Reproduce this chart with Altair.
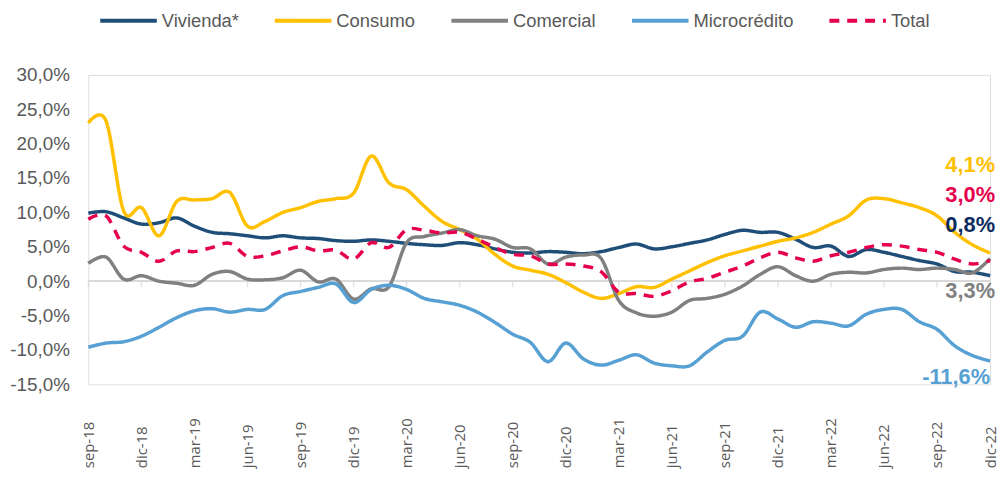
import altair as alt
import pandas as pd

months = [
    "sep-18", "oct-18", "nov-18", "dic-18",
    "ene-19", "feb-19", "mar-19", "abr-19", "may-19", "jun-19", "jul-19", "ago-19", "sep-19", "oct-19", "nov-19", "dic-19",
    "ene-20", "feb-20", "mar-20", "abr-20", "may-20", "jun-20", "jul-20", "ago-20", "sep-20", "oct-20", "nov-20", "dic-20",
    "ene-21", "feb-21", "mar-21", "abr-21", "may-21", "jun-21", "jul-21", "ago-21", "sep-21", "oct-21", "nov-21", "dic-21",
    "ene-22", "feb-22", "mar-22", "abr-22", "may-22", "jun-22", "jul-22", "ago-22", "sep-22", "oct-22", "nov-22", "dic-22",
]
tick_labels = ["sep-18", "dic-18", "mar-19", "jun-19", "sep-19", "dic-19", "mar-20", "jun-20", "sep-20",
               "dic-20", "mar-21", "jun-21", "sep-21", "dic-21", "mar-22", "jun-22", "sep-22", "dic-22"]

vivienda = [9.9, 10.1, 9.2, 8.3, 8.5, 9.2, 8.0, 7.1, 6.9, 6.6, 6.3, 6.6, 6.3, 6.2, 5.9, 5.8, 6.0, 5.8,
            5.5, 5.3, 5.2, 5.6, 5.3, 4.7, 4.2, 4.1, 4.3, 4.2, 4.0, 4.3, 4.9, 5.4, 4.7, 5.0, 5.5, 6.0,
            6.8, 7.4, 7.1, 7.1, 6.1, 4.9, 5.1, 3.6, 4.6, 4.2, 3.6, 3.0, 2.5, 1.4, 1.3, 0.8]
consumo = [23.0, 23.3, 10.2, 10.7, 6.6, 11.6, 11.8, 12.0, 12.9, 8.0, 8.7, 10.0, 10.7, 11.6, 12.0, 12.8, 18.2, 14.3,
           13.3, 10.9, 8.7, 7.5, 6.1, 3.9, 2.2, 1.6, 1.0, -0.2, -1.6, -2.5, -1.8, -0.8, -0.9, 0.3, 1.5, 2.7,
           3.7, 4.4, 5.1, 5.8, 6.3, 7.1, 8.3, 9.5, 11.8, 12.0, 11.4, 10.7, 9.5, 7.1, 5.3, 4.1]
comercial = [2.6, 3.5, 0.3, 0.8, 0.0, -0.3, -0.6, 1.0, 1.4, 0.3, 0.2, 0.5, 1.6, -0.1, 0.3, -2.6, -1.1, -0.8,
             5.6, 6.5, 7.0, 7.5, 6.6, 6.1, 4.9, 4.7, 2.5, 3.5, 3.8, 3.3, -2.8, -4.6, -5.1, -4.5, -2.8, -2.5,
             -1.9, -0.7, 1.0, 2.1, 0.8, 0.0, 1.0, 1.3, 1.2, 1.7, 1.9, 1.7, 1.9, 1.7, 1.2, 3.3]
microcredito = [-9.6, -9.0, -8.8, -8.0, -6.7, -5.3, -4.3, -4.0, -4.5, -4.1, -4.1, -2.1, -1.5, -0.9, -0.4, -3.1, -1.2, -0.6,
                -1.2, -2.5, -3.0, -3.5, -4.5, -6.0, -7.7, -8.9, -11.7, -9.0, -11.3, -12.2, -11.5, -10.7, -11.9, -12.3, -12.3, -10.3,
                -8.6, -8.0, -4.5, -5.5, -6.7, -5.9, -6.1, -6.5, -4.8, -4.1, -4.1, -5.9, -7.0, -9.4, -10.8, -11.6]
total = [9.0, 9.5, 5.1, 4.2, 2.9, 4.4, 4.3, 4.9, 5.5, 3.6, 3.7, 4.4, 5.0, 4.4, 4.5, 3.2, 5.6, 4.9,
         7.5, 7.4, 7.0, 7.1, 6.1, 4.9, 3.9, 3.7, 2.5, 2.5, 2.2, 1.4, -1.6, -1.8, -2.2, -1.4, -0.1, 0.4,
         1.3, 2.2, 3.4, 4.2, 3.4, 2.9, 3.7, 4.2, 4.9, 5.3, 5.1, 4.6, 4.2, 3.2, 2.5, 3.0]

series_names = ["Vivienda*", "Consumo", "Comercial", "Microcrédito", "Total"]
series_values = [vivienda, consumo, comercial, microcredito, total]
line_colors = ["#1F4E79", "#FFC000", "#808080", "#56A0D3", "#E6004C"]
label_colors = ["#0B2A5E", "#FFC000", "#808080", "#56A0D3", "#E6004C"]
dashes = [[1, 0], [1, 0], [1, 0], [1, 0], [10, 8]]
label_dy = [-51, -89, 33, 16, -66]
label_dx = [5, 5, 5, 0, 5]

rows = []
for name, vals in zip(series_names, series_values):
    for m, v in zip(months, vals):
        rows.append({"mes": m, "serie": name, "valor": v})
df = pd.DataFrame(rows)
ticks_df = pd.DataFrame({"mes": tick_labels})

FONT = "Liberation Sans"
GREY_TXT = "#595959"

x_enc = alt.X(
    "mes:O",
    scale=alt.Scale(type="point", domain=months, padding=0),
    axis=alt.Axis(
        values=tick_labels, labelAngle=-90, labelAlign="left", labelBaseline="middle",
        labelPadding=84, labelFont="Open Sans", labelFontSize=15, labelColor=GREY_TXT,
        domain=False, ticks=False, grid=False, title=None, labelOverlap=False,
    ),
)
y_scale = alt.Scale(domain=[-15, 30], nice=False, zero=False)
y_axis = alt.Axis(
    values=list(range(-15, 31, 5)),
    labelExpr="(datum.value < 0 ? '-' : '') + replace(format(abs(datum.value), '.1f'), '.', ',') + '%'",
    domain=False, ticks=False, grid=False, title=None,
    labelFont=FONT, labelFontSize=19, labelColor=GREY_TXT, labelPadding=19,
)

legend = alt.Legend(
    title=None, orient="none", legendX=10, legendY=-85, direction="horizontal", columns=5,
    symbolType="stroke", symbolSize=3249, symbolStrokeWidth=4,
    labelFont=FONT, labelFontSize=18.5, labelColor=GREY_TXT, labelOffset=3,
    columnPadding=28, padding=0,
)

zero_rule = alt.Chart(df).mark_rule(color="#D9D9D9", strokeWidth=1.5).encode(
    y=alt.Y(datum=0, scale=y_scale, axis=y_axis)
)
tick_marks = alt.Chart(ticks_df).mark_tick(
    orient="vertical", color="#D9D9D9", thickness=1.5, size=6, yOffset=3
).encode(x=x_enc, y=alt.Y(datum=0, scale=y_scale, axis=y_axis))

lines = alt.Chart(df).mark_line(interpolate="cardinal", strokeWidth=3.5).encode(
    x=x_enc,
    y=alt.Y("valor:Q", scale=y_scale, axis=y_axis),
    color=alt.Color("serie:N", scale=alt.Scale(domain=series_names, range=line_colors), legend=legend),
    strokeDash=alt.StrokeDash("serie:N", scale=alt.Scale(domain=series_names, range=dashes), legend=legend),
)

label_layers = []
for name, col, dy, dx in zip(series_names, label_colors, label_dy, label_dx):
    lbl = alt.Chart(df).transform_filter(
        (alt.datum.serie == name) & (alt.datum.mes == months[-1])
    ).transform_calculate(
        lbl="(datum.valor < 0 ? '-' : '') + replace(format(abs(datum.valor), '.1f'), '.', ',') + '%'"
    ).mark_text(
        align="right", baseline="middle", dx=dx, dy=dy, font=FONT, fontSize=22,
        fontWeight="bold", color=col,
    ).encode(x=x_enc, y=alt.Y("valor:Q", scale=y_scale, axis=y_axis), text="lbl:N")
    label_layers.append(lbl)

chart = alt.layer(zero_rule, tick_marks, lines, *label_layers).properties(
    width=909, height=312,
    autosize=alt.AutoSizeParams(type="none"),
    padding={"left": 81, "top": 65.5, "right": 10, "bottom": 92},
).configure_view(stroke=None).configure(background="white")

chart.save("out.html", embed_options={"renderer": "svg", "actions": False})
